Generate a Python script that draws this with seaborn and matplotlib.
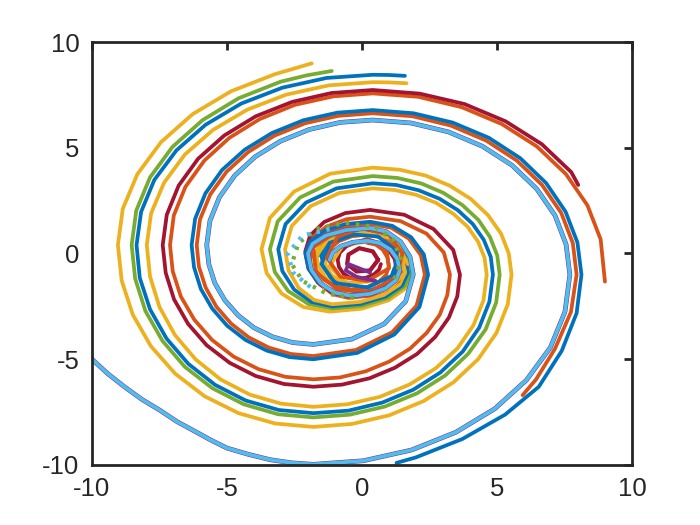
import matplotlib
matplotlib.use("Agg")
import matplotlib.pyplot as plt
import seaborn as sns
import pandas as pd

# trajectories, ordered from the outer start point inwards
LB_PTS = [(-10.0, -5.0), (-9.4, -5.7), (-8.8, -6.3), (-8.15, -6.9), (-7.5, -7.4), (-6.85, -7.95),
          (-6.2, -8.4), (-5.6, -8.82), (-5.0, -9.2), (-4.2, -9.5), (-3.4, -9.75), (-2.6, -9.9), (-1.8, -9.97),
          (0.05, -9.80), (1.84, -9.29), (3.48, -8.45), (4.92, -7.34), (6.09, -5.99), (6.98, -4.44),
          (7.52, -2.75), (7.70, -1.0),
          (7.56, 0.43), (7.15, 1.80), (6.47, 3.06), (5.56, 4.17), (4.46, 5.07), (3.20, 5.75),
          (1.82, 6.17), (0.4, 6.31),
          (-0.80, 6.20), (-1.96, 5.86), (-3.02, 5.31), (-3.95, 4.58), (-4.71, 3.69), (-5.28, 2.66),
          (-5.63, 1.55), (-5.75, 0.4),
          (-5.67, -0.52), (-5.45, -1.40), (-5.08, -2.21), (-4.59, -2.92), (-4.00, -3.51), (-3.31, -3.94),
          (-2.57, -4.21), (-1.8, -4.3),
          (-0.38, -4.05), (0.82, -3.33), (1.62, -2.26), (1.9, -1.0),
          (1.78, -0.16), (1.43, 0.56), (0.91, 1.03), (0.3, 1.2),
          (-0.58, 1.11), (-1.33, 0.85), (-1.83, 0.46), (-2.0, 0.0),
          (-1.88, -0.77), (-1.53, -1.41), (-1.01, -1.85), (-0.4, -2.0),
          (0.29, -1.91), (0.87, -1.65), (1.26, -1.26), (1.4, -0.8),
          (1.31, -0.26), (1.05, 0.19), (0.66, 0.49), (0.2, 0.6),
          (-0.34, 0.53), (-0.79, 0.34), (-1.09, 0.04), (-1.2, -0.3)]

BLUE_E_PTS = [(1.28, -9.9), (2.00, -9.64), (3.72, -8.77), (5.30, -7.62), (6.55, -6.30), (7.40, -4.60),
              (7.95, -2.82), (8.13, -1.0),
              (7.98, 0.52), (7.54, 1.98), (6.82, 3.33), (5.87, 4.50), (4.70, 5.47), (3.36, 6.19),
              (1.91, 6.63), (0.4, 6.78),
              (-0.91, 6.66), (-2.17, 6.30), (-3.33, 5.70), (-4.34, 4.91), (-5.18, 3.95), (-5.80, 2.84),
              (-6.18, 1.64), (-6.31, 0.4),
              (-6.22, -0.65), (-5.97, -1.67), (-5.55, -2.60), (-4.99, -3.42), (-4.31, -4.09), (-3.53, -4.59),
              (-2.68, -4.90), (-1.8, -5.0),
              (-0.17, -4.70), (1.20, -3.83), (2.13, -2.53), (2.45, -1.0),
              (2.29, -0.04), (1.82, 0.77), (1.12, 1.31), (0.3, 1.5),
              (-0.62, 1.39), (-1.40, 1.06), (-1.92, 0.57), (-2.1, 0.0),
              (-1.98, -0.73), (-1.63, -1.34), (-1.11, -1.76), (-0.5, -1.9),
              (0.15, -1.81), (0.70, -1.55), (1.07, -1.16), (1.2, -0.7)]

ORANGE_F_PTS = [(5.95, -6.7), (6.45, -5.95), (7.15, -4.5), (7.74, -2.77), (7.95, -1.0),
                (7.81, 0.49), (7.38, 1.92), (6.67, 3.24), (5.74, 4.39), (4.60, 5.34), (3.29, 6.05),
                (1.87, 6.49), (0.4, 6.63),
                (-0.87, 6.51), (-2.10, 6.16), (-3.23, 5.58), (-4.21, 4.80), (-5.02, 3.86), (-5.62, 2.79),
                (-6.00, 1.61), (-6.12, 0.4),
                (-6.04, -0.62), (-5.79, -1.61), (-5.39, -2.52), (-4.85, -3.31), (-4.20, -3.96), (-3.45, -4.45),
                (-2.64, -4.75), (-1.8, -4.85),
                (-0.22, -4.56), (1.12, -3.72), (2.02, -2.47), (2.33, -1.0),
                (2.18, -0.08), (1.74, 0.70), (1.08, 1.22), (0.3, 1.4),
                (-0.54, 1.29), (-1.26, 0.99), (-1.73, 0.54), (-1.9, 0.0),
                (-1.79, -0.65), (-1.46, -1.20), (-0.97, -1.57), (-0.4, -1.7),
                (0.14, -1.62), (0.59, -1.38), (0.89, -1.02), (1.0, -0.6),
                (0.94, -0.18), (0.77, 0.18), (0.51, 0.42), (0.2, 0.5)]

ORANGE_D_PTS = [(9.0, -1.33), (8.84, 0.67), (8.35, 2.28), (7.55, 3.76), (6.48, 5.06), (5.18, 6.12),
                (3.69, 6.92), (2.08, 7.41), (0.4, 7.57),
                (-1.06, 7.43), (-2.48, 7.03), (-3.78, 6.36), (-4.91, 5.47), (-5.84, 4.39), (-6.54, 3.15),
                (-6.97, 1.80), (-7.11, 0.4),
                (-7.01, -0.84), (-6.71, -2.03), (-6.21, -3.13), (-5.55, -4.09), (-4.75, -4.88), (-3.83, -5.47),
                (-2.84, -5.83), (-1.8, -5.95),
                (-0.81, -5.86), (0.14, -5.57), (1.01, -5.11), (1.78, -4.50), (2.40, -3.75), (2.88, -2.90),
                (3.16, -1.97), (3.26, -1.0),
                (3.03, 0.05), (2.39, 0.94), (1.43, 1.53), (0.3, 1.74),
                (-0.58, 1.62), (-1.33, 1.26), (-1.83, 0.73), (-2.0, 0.1),
                (-1.89, -0.74), (-1.56, -1.46), (-1.07, -1.93), (-0.5, -2.1),
                (0.27, -2.0), (0.91, -1.72), (1.35, -1.30), (1.5, -0.8),
                (1.40, -0.15), (1.12, 0.40), (0.70, 0.77), (0.2, 0.9),
                (-0.37, 0.82), (-0.86, 0.58), (-1.19, 0.22), (-1.3, -0.2)]

RED_PTS = [(8.01, 3.24), (7.75, 3.85), (6.66, 5.17), (5.32, 6.25), (3.79, 7.07), (2.13, 7.56), (0.4, 7.73),
           (-1.12, 7.59), (-2.58, 7.17), (-3.93, 6.49), (-5.10, 5.58), (-6.07, 4.48), (-6.79, 3.21),
           (-7.23, 1.83), (-7.38, 0.4),
           (-7.27, -0.91), (-6.96, -2.17), (-6.44, -3.33), (-5.75, -4.34), (-4.90, -5.17), (-3.94, -5.79),
           (-2.89, -6.17), (-1.8, -6.3),
           (-0.74, -6.20), (0.28, -5.90), (1.22, -5.40), (2.04, -4.75), (2.71, -3.95), (3.22, -3.03),
           (3.53, -2.03), (3.63, -1.0),
           (3.38, 0.17), (2.65, 1.16), (1.57, 1.83), (0.3, 2.06),
           (-0.62, 1.91), (-1.40, 1.49), (-1.92, 0.85), (-2.1, 0.1),
           (-1.98, -0.70), (-1.63, -1.38), (-1.11, -1.84), (-0.5, -2.0),
           (0.19, -1.91), (0.77, -1.65), (1.16, -1.26), (1.3, -0.8),
           (1.21, -0.26), (0.98, 0.19), (0.62, 0.49), (0.2, 0.6),
           (-0.22, 0.53), (-0.58, 0.34), (-0.82, 0.04), (-0.9, -0.3),
           (-0.85, -0.64), (-0.69, -0.94), (-0.47, -1.13), (-0.2, -1.2),
           (0.14, -1.15), (0.44, -0.99), (0.63, -0.77), (0.7, -0.5)]

YELLOW_C_PTS = [(1.65, 8.05), (1.0, 8.09), (0.4, 8.1),
                (-1.23, 7.95), (-2.81, 7.51), (-4.25, 6.80), (-5.52, 5.84), (-6.56, 4.68), (-7.33, 3.35),
                (-7.81, 1.90), (-7.97, 0.4),
                (-7.85, -1.09), (-7.50, -2.53), (-6.93, -3.85), (-6.16, -5.01), (-5.23, -5.96), (-4.16, -6.67),
                (-3.00, -7.10), (-1.8, -7.25),
                (-0.55, -7.13), (0.66, -6.78), (1.77, -6.19), (2.74, -5.42), (3.54, -4.48), (4.13, -3.39),
                (4.50, -2.22), (4.62, -1.0),
                (4.54, -0.20), (4.30, 0.56), (3.91, 1.27), (3.38, 1.88), (2.75, 2.39), (2.02, 2.77),
                (1.22, 3.00), (0.4, 3.08),
                (-0.84, 2.86), (-1.90, 2.24), (-2.60, 1.30), (-2.85, 0.2),
                (-2.72, -0.80), (-2.34, -1.64), (-1.77, -2.20), (-1.1, -2.4),
                (-0.07, -2.29), (0.81, -1.96), (1.39, -1.47), (1.6, -0.9),
                (1.49, -0.21), (1.19, 0.37), (0.74, 0.76), (0.2, 0.9),
                (-0.41, 0.82), (-0.93, 0.58), (-1.28, 0.22), (-1.4, -0.2),
                (-1.32, -0.66), (-1.11, -1.05), (-0.78, -1.31), (-0.4, -1.4)]

BLUE_B_PTS = [(1.59, 8.4), (1.0, 8.44), (0.4, 8.45),
              (-1.31, 8.30), (-2.95, 7.84), (-4.47, 7.09), (-5.79, 6.09), (-6.87, 4.88), (-7.69, 3.48),
              (-8.18, 1.97), (-8.35, 0.4),
              (-8.23, -1.15), (-7.85, -2.64), (-7.24, -4.02), (-6.43, -5.22), (-5.44, -6.21), (-4.31, -6.95),
              (-3.08, -7.40), (-1.8, -7.55),
              (-0.50, -7.43), (0.75, -7.05), (1.90, -6.44), (2.90, -5.63), (3.73, -4.64), (4.34, -3.51),
              (4.72, -2.28), (4.85, -1.0),
              (4.77, -0.16), (4.51, 0.65), (4.10, 1.40), (3.55, 2.05), (2.87, 2.59), (2.10, 2.99),
              (1.27, 3.24), (0.4, 3.32),
              (-0.94, 3.08), (-2.07, 2.41), (-2.83, 1.39), (-3.1, 0.2),
              (-2.95, -0.83), (-2.51, -1.71), (-1.87, -2.29), (-1.1, -2.5),
              (-0.03, -2.38), (0.88, -2.03), (1.49, -1.51), (1.7, -0.9),
              (1.59, -0.17), (1.26, 0.44), (0.77, 0.86), (0.2, 1.0),
              (-0.45, 0.92), (-1.0, 0.68), (-1.37, 0.32), (-1.5, -0.1),
              (-1.42, -0.64), (-1.18, -1.09), (-0.82, -1.39), (-0.4, -1.5)]

GREEN_PTS = [(-1.12, 8.63), (-2.06, 8.42), (-3.02, 8.12), (-4.57, 7.34), (-5.91, 6.30), (-7.02, 5.04),
             (-7.85, 3.60), (-8.36, 2.03), (-8.53, 0.4),
             (-8.40, -1.19), (-8.02, -2.72), (-7.39, -4.13), (-6.56, -5.36), (-5.54, -6.37), (-4.38, -7.13),
             (-3.11, -7.60), (-1.8, -7.75),
             (-0.45, -7.62), (0.84, -7.24), (2.04, -6.61), (3.08, -5.77), (3.93, -4.75), (4.58, -3.59),
             (4.97, -2.32), (5.1, -1.0),
             (5.01, -0.09), (4.74, 0.78), (4.31, 1.59), (3.72, 2.29), (3.01, 2.87), (2.20, 3.31),
             (1.32, 3.57), (0.4, 3.66),
             (-1.06, 3.40), (-2.29, 2.65), (-3.12, 1.52), (-3.41, 0.2),
             (-3.23, -0.87), (-2.73, -1.78), (-1.98, -2.39), (-1.1, -2.6),
             (0.01, -2.47), (0.95, -2.10), (1.58, -1.55), (1.8, -0.9),
             (1.68, -0.13), (1.33, 0.51), (0.81, 0.95), (0.2, 1.1),
             (-0.49, 1.01), (-1.07, 0.75), (-1.46, 0.36), (-1.6, -0.1)]

YELLOW_A_PTS = [(-1.86, 8.99), (-3.22, 8.48), (-4.85, 7.67), (-6.27, 6.59), (-7.44, 5.27), (-8.32, 3.75),
                (-8.86, 2.11), (-9.04, 0.4),
                (-8.90, -1.28), (-8.49, -2.89), (-7.82, -4.38), (-6.92, -5.68), (-5.83, -6.75), (-4.57, -7.55),
                (-3.21, -8.04), (-1.8, -8.2),
                (-0.37, -8.06), (1.01, -7.65), (2.28, -6.98), (3.39, -6.09), (4.30, -5.00), (4.98, -3.76),
                (5.40, -2.40), (5.54, -1.0),
                (5.44, -0.01), (5.15, 0.94), (4.67, 1.81), (4.03, 2.58), (3.26, 3.20), (2.37, 3.68),
                (1.40, 3.96), (0.4, 4.06),
                (-1.18, 3.77), (-2.51, 2.93), (-3.41, 1.68), (-3.72, 0.2),
                (-3.53, -0.93), (-2.98, -1.89), (-2.17, -2.53), (-1.2, -2.75),
                (-0.01, -2.61), (0.99, -2.21), (1.66, -1.61), (1.9, -0.9),
                (1.77, -0.10), (1.40, 0.58), (0.85, 1.04), (0.2, 1.2),
                (-0.53, 1.11), (-1.14, 0.85), (-1.56, 0.46), (-1.7, 0.0),
                (-1.61, -0.61), (-1.35, -1.13), (-0.96, -1.48), (-0.5, -1.6)]

# ragged inner loops of the central knot
ORANGE_IN_PTS = [(-1.1, 0.9), (-1.8, 0.3), (-1.7, -0.9), (-0.9, -1.7), (0.3, -1.8), (1.3, -1.1),
                 (1.5, 0.0), (1.0, 0.9), (0.0, 1.2), (-0.9, 0.8), (-1.3, -0.2), (-0.8, -1.1),
                 (0.2, -1.3), (1.0, -0.7), (0.9, 0.3), (0.2, 0.7), (-0.5, 0.4)]
YELLOW_IN_PTS = [(1.7, -0.5), (1.2, 0.7), (0.0, 1.0), (-1.3, 0.6), (-1.9, -0.5), (-1.4, -1.6),
                 (-0.2, -2.0), (1.0, -1.7), (1.6, -0.9), (1.3, 0.1), (0.4, 0.6), (-0.7, 0.4),
                 (-1.2, -0.6), (-0.6, -1.4), (0.5, -1.3)]
BLUE_IN_PTS = [(-0.3, 0.9), (-1.2, 0.5), (-1.5, -0.5), (-1.0, -1.4), (0.2, -1.6), (1.2, -1.0),
               (1.3, 0.1), (0.6, 0.8), (-0.3, 0.9)]
RED_IN_PTS = [(0.6, -0.3), (0.4, 0.1), (-0.1, 0.25), (-0.5, -0.05), (-0.55, -0.5), (-0.2, -0.85),
              (0.3, -0.8), (0.6, -0.3)]
PURPLE_IN_PTS = [(0.5, -1.3), (-0.2, -1.1), (-0.6, -0.8), (-0.5, -0.5), (-0.1, -0.7), (0.3, -0.9)]

# dotted rings round the centre
GREEN_DOT_PTS = [(1.2, -1.2), (1.45, -0.3), (1.15, 0.65), (0.5, 1.25), (-0.6, 1.45), (-1.6, 1.2),
                 (-2.35, 0.5), (-2.6, -0.5), (-2.2, -1.3), (-1.3, -1.9), (-0.3, -2.1)]
LB_DOT_PTS = [(-1.2, 1.15), (-2.2, 0.85), (-2.75, 0.0), (-2.55, -0.9), (-1.9, -1.6)]

BLUE = "#0072BD"
ORANGE = "#D95319"
YELLOW = "#EDB120"
PURPLE = "#7E2F8E"
GREEN = "#77AC30"
LIGHTBLUE = "#4DBEEE"
DARKRED = "#A2142F"

curves = [
    ("yellowA", YELLOW_A_PTS, YELLOW, 2.7), ("green", GREEN_PTS, GREEN, 2.7),
    ("blueB", BLUE_B_PTS, BLUE, 2.7), ("yellowC", YELLOW_C_PTS, YELLOW, 2.7),
    ("orangeD", ORANGE_D_PTS, ORANGE, 2.7), ("red", RED_PTS, DARKRED, 2.7),
    ("orangeF", ORANGE_F_PTS, ORANGE, 2.7), ("blueE", BLUE_E_PTS, BLUE, 2.7),
    ("yellowIn", YELLOW_IN_PTS, YELLOW, 2.7), ("blueIn", BLUE_IN_PTS, BLUE, 2.7),
    ("orangeIn", ORANGE_IN_PTS, ORANGE, 2.7), ("redIn", RED_IN_PTS, DARKRED, 3.0),
    ("purpleIn", PURPLE_IN_PTS, PURPLE, 2.7),
    ("purple", LB_PTS, PURPLE, 3.4), ("lightblue", LB_PTS, LIGHTBLUE, 2.7),
]

rows = []
for name, pts, col, lw in curves:
    for i, (x, y) in enumerate(pts):
        rows.append({"curve": name, "step": i, "x": x, "y": y})
df = pd.DataFrame(rows)

sns.set_style("white")
plt.rcParams["font.family"] = ["Liberation Sans", "DejaVu Sans"]
plt.rcParams["axes.unicode_minus"] = False

fig = plt.figure(figsize=(7, 5.25), dpi=100)
ax = fig.add_axes([0.1314, 0.1143, 0.7714, 0.8057])

for name, pts, col, lw in curves:
    sub = df[df["curve"] == name]
    sns.lineplot(data=sub, x="x", y="y", sort=False, estimator=None, color=col,
                 linewidth=lw, ax=ax, legend=False)

for pts, col in [(GREEN_DOT_PTS, GREEN), (LB_DOT_PTS, LIGHTBLUE)]:
    dd = pd.DataFrame(pts, columns=["x", "y"])
    sns.lineplot(data=dd, x="x", y="y", sort=False, estimator=None, color=col,
                 linewidth=3.0, linestyle=(0, (0.8, 1.6)), ax=ax, legend=False)

ax.set_xlim(-10, 10)
ax.set_ylim(-10, 10)
ax.set_xticks([-10, -5, 0, 5, 10])
ax.set_yticks([-10, -5, 0, 5, 10])
ax.set_xlabel("")
ax.set_ylabel("")
for sp in ax.spines.values():
    sp.set_visible(True)
    sp.set_color("#262626")
    sp.set_linewidth(2.0)
ax.tick_params(direction="in", top=True, right=True, length=6, width=2.0,
               colors="#262626", labelsize=18.5, pad=9)

fig.savefig("out.png", dpi=100)
